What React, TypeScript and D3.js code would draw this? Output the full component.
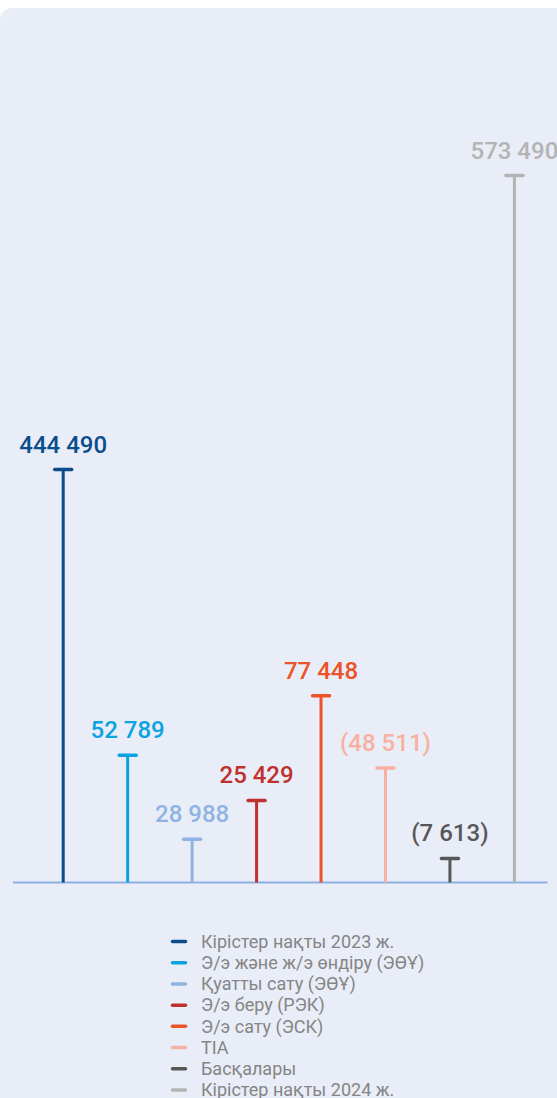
import React from "react";
import * as d3 from "d3";

// ---- data ----
const categories = [
  "Кірістер нақты 2023 ж.",
  "Э/э және ж/э өндіру (ЭӨҰ)",
  "Қуатты сату (ЭӨҰ)",
  "Э/э беру (РЭК)",
  "Э/э сату (ЭСК)",
  "TIA",
  "Басқалары",
  "Кірістер нақты 2024 ж.",
];
const values = [444490, 52789, 28988, 25429, 77448, -48511, -7613, 573490];
// visual level of each stem (percent of the tallest stem)
const stemLevels = [58.4, 18.0, 6.1, 11.6, 26.4, 16.2, 3.4, 100];
const colors = [
  "#0a4d8c",
  "#0aa3e2",
  "#8fb3e2",
  "#c0302c",
  "#ea5427",
  "#f8b1a0",
  "#575757",
  "#b4b4b4",
];

const W = 557;
const H = 1098;
const BASE_Y = 882.5;
const TOP_Y = 175.5;

const fmt = (v: number) => {
  const s = d3.format(",")(Math.abs(v)).replace(/,/g, " ");
  return v < 0 ? `(${s})` : s;
};

export default function App() {
  const x = d3.scalePoint<string>().domain(categories).range([63.2, 514.4]);
  const y = d3.scaleLinear().domain([0, 100]).range([BASE_Y, TOP_Y]);
  const legendY = d3
    .scalePoint<string>()
    .domain(categories)
    .range([941.5, 1090]);

  return (
    <svg
      width={W}
      height={H}
      style={{ position: "absolute", left: 0, top: 0, display: "block" }}
      fontFamily="Roboto, 'Noto Sans', sans-serif"
    >
      <rect x={0} y={8} width={W + 40} height={H + 40} rx={12} fill="#e9edf7" />
      <line x1={13} x2={547.5} y1={BASE_Y} y2={BASE_Y} stroke="#8db0e3" strokeWidth={2} />
      {categories.map((c, i) => {
        const cx = x(c)!;
        const top = y(stemLevels[i]);
        return (
          <g key={c}>
            <line
              x1={cx}
              x2={cx}
              y1={BASE_Y}
              y2={top}
              stroke={colors[i]}
              strokeWidth={3}
            />
            <line
              x1={cx - 8.5}
              x2={cx + 8.5}
              y1={top}
              y2={top}
              stroke={colors[i]}
              strokeWidth={3.5}
              strokeLinecap="round"
            />
            <text
              x={cx}
              y={top - 17}
              textAnchor="middle"
              fontSize={24}
              fontWeight={500}
              fill={colors[i]}
            >
              {fmt(values[i])}
            </text>
          </g>
        );
      })}
      {categories.map((c, i) => {
        const ly = legendY(c)!;
        return (
          <g key={"lg" + c}>
            <line
              x1={172.5}
              x2={185.5}
              y1={ly}
              y2={ly}
              stroke={colors[i]}
              strokeWidth={3.5}
              strokeLinecap="round"
            />
            <text x={201} y={ly} dy="0.35em" fontSize={18} fill="#858585">
              {c}
            </text>
          </g>
        );
      })}
    </svg>
  );
}
